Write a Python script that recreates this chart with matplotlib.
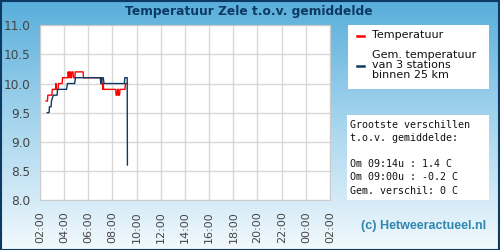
import numpy as np
import matplotlib
matplotlib.use("Agg")
import matplotlib.pyplot as plt
from matplotlib.patches import Rectangle
from matplotlib.colors import LinearSegmentedColormap

# ---- data ----
title = "Temperatuur Zele t.o.v. gemiddelde"
x_tick_labels = ["02:00", "04:00", "06:00", "08:00", "10:00", "12:00", "14:00",
                 "16:00", "18:00", "20:00", "22:00", "00:00", "02:00"]
y_ticks = [8.0, 8.5, 9.0, 9.5, 10.0, 10.5, 11.0]

red_times = ["02:30", "02:37", "02:39", "02:59", "03:01", "03:17", "03:19", "03:21",
             "03:23", "03:30", "03:32", "03:50", "03:52", "04:18", "04:20", "04:24",
             "04:26", "04:30", "04:32", "04:36", "04:38", "04:44", "04:46", "04:53",
             "04:55", "05:34", "05:36", "07:00", "07:02", "07:05", "07:07", "07:10",
             "07:12", "07:14", "07:16", "07:27", "07:29", "08:16", "08:18", "08:23",
             "08:25", "08:28", "08:30", "08:35", "08:37", "09:02", "09:04", "09:14"]
red_values = [9.7, 9.7, 9.8, 9.8, 9.9, 9.9, 10.0, 9.9,
              9.9, 9.9, 10.0, 10.0, 10.1, 10.1, 10.2, 10.1,
              10.2, 10.2, 10.1, 10.1, 10.2, 10.2, 10.1, 10.1,
              10.2, 10.2, 10.1, 10.1, 10.0, 10.1, 10.0, 10.0,
              9.9, 10.0, 9.9, 9.9, 9.9, 9.9, 9.8, 9.8,
              9.9, 9.9, 9.8, 9.8, 9.9, 9.9, 10.0, 10.0]

avg_times = ["02:36", "02:45", "02:47", "02:55", "02:57", "03:06", "03:08", "03:25",
             "03:27", "04:12", "04:16", "04:52", "04:56", "07:00", "07:02", "07:06",
             "07:08", "07:14", "07:18", "08:59", "09:01", "09:13", "09:14"]
avg_values = [9.5, 9.5, 9.6, 9.6, 9.7, 9.8, 9.8, 9.8,
              9.9, 9.9, 10.0, 10.0, 10.1, 10.1, 10.0, 10.0,
              10.1, 10.1, 10.0, 10.0, 10.1, 10.1, 8.6]

legend_labels = ["Temperatuur", "Gem. temperatuur\nvan 3 stations\nbinnen 25 km"]
stats_text = ("Grootste verschillen\nt.o.v. gemiddelde:\n\n"
              "Om 09:14u : 1.4 C\nOm 09:00u : -0.2 C\nGem. verschil: 0 C")
credit = "(c) Hetweeractueel.nl"


def to_hours(ts):
    out = []
    for t in ts:
        h, m = t.split(":")
        out.append(int(h) + int(m) / 60.0)
    return np.array(out)


RED = "#ff0000"
NAVY = "#0c3a63"

fig = plt.figure(figsize=(5, 2.5), dpi=100)

# background gradient
bg = fig.add_axes([0, 0, 1, 1], zorder=-10)
cmap = LinearSegmentedColormap.from_list("bg", ["#58aedb", "#a8d6ee", "#f2f9fd"])
grad = np.linspace(0, 1, 256).reshape(-1, 1)
bg.imshow(grad, aspect="auto", cmap=cmap, extent=[0, 1, 0, 1], origin="upper")
bg.set_xlim(0, 1)
bg.set_ylim(0, 1)
bg.axis("off")
bg.add_patch(Rectangle((0.001, 0.002), 0.997, 0.995, fill=False,
                       edgecolor=NAVY, linewidth=1.5, transform=bg.transAxes))

fig.text(0.498, 1 - 11 / 250, title, ha="center", va="center", fontsize=8.8,
         fontweight="bold", color=NAVY, family="DejaVu Sans")

ax = fig.add_axes([40 / 500, 50 / 250, 290 / 500, 174.7 / 250])
ax.set_facecolor("white")
ax.plot(to_hours(red_times), red_values, color=RED, lw=1.0, zorder=3)
ax.plot(to_hours(avg_times), avg_values, color=NAVY, lw=1.0, zorder=4)

ax.set_xlim(2, 26)
ax.set_ylim(8.0, 11.0)
ax.set_xticks(np.arange(2, 27, 2))
ax.set_xticklabels(x_tick_labels, rotation=90, fontsize=8, color="#444444")
ax.set_yticks(y_ticks)
ax.set_yticklabels([f"{v:.1f}" for v in y_ticks], fontsize=8.7, color="#444444")
ax.tick_params(axis="both", length=0)
ax.tick_params(axis="x", pad=8)
ax.tick_params(axis="y", pad=7)
ax.grid(True, color="#d8d8d8", lw=1.0)
ax.set_axisbelow(True)
for s in ax.spines.values():
    s.set_color("#cccccc")

# legend box
fig.patches.append(Rectangle((347.7 / 500, 1 - 89 / 250), 141.3 / 500, 64 / 250,
                             transform=fig.transFigure, facecolor="white",
                             edgecolor="none", zorder=1))
fig.add_artist(plt.Line2D([356.5 / 500, 363.5 / 500], [1 - 35.7 / 250] * 2,
                          color=RED, lw=1.8, transform=fig.transFigure))
fig.add_artist(plt.Line2D([356.5 / 500, 363.5 / 500], [1 - 66 / 250] * 2,
                          color=NAVY, lw=1.8, transform=fig.transFigure))
fig.text(372.5 / 500, 1 - 35.3 / 250, legend_labels[0], ha="left", va="center",
         fontsize=8, color="#111111")
fig.text(372.5 / 500, 1 - 65 / 250, legend_labels[1], ha="left", va="center",
         fontsize=8, color="#111111", linespacing=1.0)

# stats box
fig.patches.append(Rectangle((346.7 / 500, 1 - 200 / 250), 142.3 / 500, 85 / 250,
                             transform=fig.transFigure, facecolor="white",
                             edgecolor="none", zorder=1))
fig.text(350 / 500, 1 - 157.5 / 250, stats_text, ha="left", va="center",
         fontsize=7.2, family="DejaVu Sans Mono", color="#111111", linespacing=1.4)

fig.text(423.5 / 500, 1 - 225.5 / 250, credit, ha="center", va="center",
         fontsize=9, fontweight="bold", family="Liberation Sans", color="#2f87b0")

fig.savefig("out.png", dpi=100)
